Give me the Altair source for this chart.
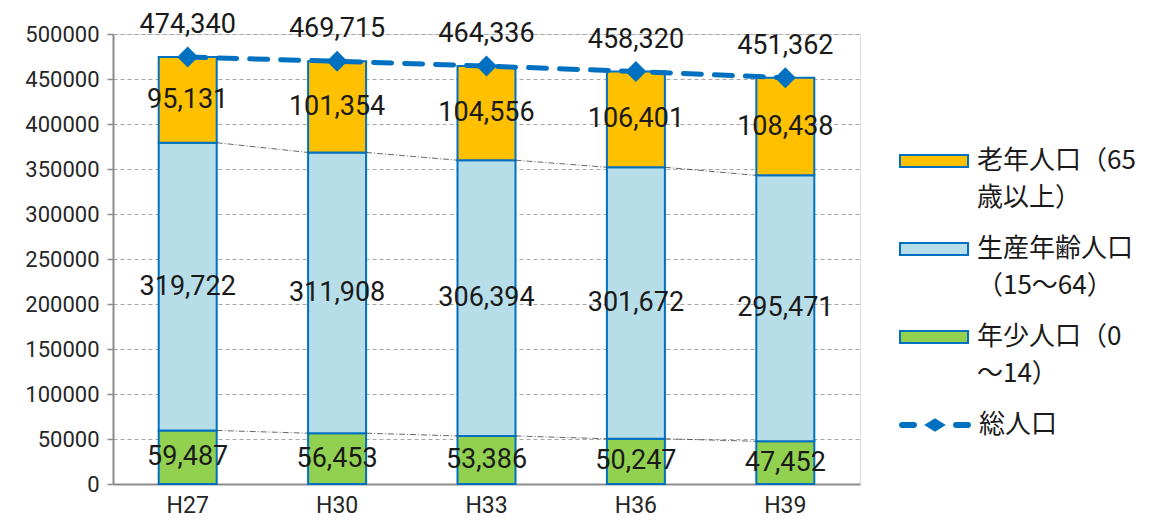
import altair as alt
import pandas as pd

years = ["H27", "H30", "H33", "H36", "H39"]
young = [59487, 56453, 53386, 50247, 47452]
working = [319722, 311908, 306394, 301672, 295471]
elderly = [95131, 101354, 104556, 106401, 108438]
total = [474340, 469715, 464336, 458320, 451362]

series_names = ["老年人口（65|歳以上）", "生産年齢人口|（15～64）", "年少人口（0|～14）"]
series_colors = ["#FFC000", "#B7DDE8", "#92D050"]
total_name = "総人口"
y_ticks = [0, 50000, 100000, 150000, 200000, 250000, 300000, 350000, 400000, 450000, 500000]

FONT = "Roboto, 'Noto Sans CJK JP'"
CJK = "'Noto Sans CJK JP'"
BLUE = "#0070C0"
TXT = "#1a1a1a"

# stacked segments, bottom to top
rows = []
for i, yr in enumerate(years):
    lower = 0
    for name, vals in [(series_names[2], young), (series_names[1], working), (series_names[0], elderly)]:
        v = vals[i]
        rows.append({"year": yr, "series": name, "value": v, "lower": lower,
                     "upper": lower + v, "mid": lower + v / 2,
                     "label": f"{v:,}"})
        lower += v
bars_df = pd.DataFrame(rows)

tot_df = pd.DataFrame({"year": years, "total": total, "name": total_name,
                       "label": [f"{t:,}" for t in total]})

# Excel-style series lines between adjacent bars
sl = []
for i in range(len(years) - 1):
    sl.append({"x": years[i], "x2": years[i + 1], "y": young[i], "y2": young[i + 1]})
    sl.append({"x": years[i], "x2": years[i + 1],
               "y": young[i] + working[i], "y2": young[i + 1] + working[i + 1]})
sl_df = pd.DataFrame(sl)

xscale = alt.Scale(domain=years, paddingInner=0, paddingOuter=0)
yscale = alt.Scale(domain=[0, 500000], nice=False)

x_enc = alt.X("year:N", scale=xscale, sort=years,
              axis=alt.Axis(title=None, labelAngle=0, ticks=False, domainColor="#8C8C8C",
                            domainWidth=2, labelFontSize=23, labelFont=FONT,
                            labelColor="#262626", labelPadding=10))

bars = alt.Chart(bars_df).mark_bar(size=58, stroke=BLUE, strokeWidth=2).encode(
    x=x_enc,
    y=alt.Y("lower:Q", scale=yscale,
            axis=alt.Axis(title=None, values=y_ticks, format="d", labelFontSize=22,
                          labelFont=FONT, labelColor="#262626", grid=True,
                          gridDash=[4, 3], gridColor="#A6A6A6", gridWidth=1,
                          domainColor="#8C8C8C", domainWidth=2, tickColor="#8C8C8C",
                          tickSize=6, tickWidth=1.5, labelPadding=8)),
    y2="upper:Q",
    fill=alt.Fill("series:N", scale=alt.Scale(domain=series_names, range=series_colors),
                  legend=alt.Legend(title=None, orient="none", legendX=786, legendY=92,
                                    symbolType="M-1,-0.18H1V0.18H-1Z", symbolSize=4624,
                                    symbolStrokeColor=BLUE, symbolStrokeWidth=2,
                                    labelExpr="split(datum.label, '|')",
                                    labelFontSize=26, labelFont=CJK, labelColor=TXT,
                                    labelLimit=300, rowPadding=3, labelOffset=8)),
)

series_lines = alt.Chart(sl_df).mark_rule(strokeDash=[6, 2, 1, 2], strokeWidth=0.8,
                                          color="#404040", xOffset=29, x2Offset=-29).encode(
    x=alt.X("x:N", scale=xscale, sort=years),
    x2="x2:N",
    y=alt.Y("y:Q", scale=yscale),
    y2="y2:Q",
)

seg_labels = alt.Chart(bars_df).mark_text(fontSize=27, font=FONT, color=TXT).encode(
    x=alt.X("year:N", scale=xscale, sort=years),
    y=alt.Y("mid:Q", scale=yscale),
    text="label:N",
)

line = alt.Chart(tot_df).mark_line(strokeDash=[18, 13], strokeWidth=5, strokeCap="round",
                                   color=BLUE).encode(
    x=alt.X("year:N", scale=xscale, sort=years),
    y=alt.Y("total:Q", scale=yscale),
)

pts = alt.Chart(tot_df).mark_point(shape="diamond", filled=True, size=440, opacity=1).encode(
    x=alt.X("year:N", scale=xscale, sort=years),
    y=alt.Y("total:Q", scale=yscale),
    color=alt.Color("name:N", scale=alt.Scale(domain=[total_name], range=[BLUE]),
                    legend=alt.Legend(title=None, orient="none", legendX=786, legendY=355,
                                      symbolType="M-0.92,-0.08H-0.58A0.08,0.08,0,0,1,-0.58,0.08H-0.92A0.08,0.08,0,0,1,-0.92,-0.08Z M-0.3,0L0,-0.19L0.3,0L0,0.19Z M0.58,-0.08H0.92A0.08,0.08,0,0,1,0.92,0.08H0.58A0.08,0.08,0,0,1,0.58,-0.08Z",
                                      symbolSize=5184, symbolStrokeWidth=0,
                                      labelFontSize=26, labelFont=CJK, labelColor=TXT,
                                      labelOffset=8)),
)

tot_labels = alt.Chart(tot_df).mark_text(fontSize=27, font=FONT, color=TXT, dy=-32).encode(
    x=alt.X("year:N", scale=xscale, sort=years),
    y=alt.Y("total:Q", scale=yscale),
    text="label:N",
)

chart = alt.layer(bars, series_lines, seg_labels, line, pts, tot_labels).properties(
    width=747, height=450,
    autosize=alt.AutoSizeParams(type="none"),
    padding={"left": 105, "top": 26, "right": 294, "bottom": 40},
).configure_view(stroke=None).configure(
    style={"guide-label": {"lineHeight": 37}}
).resolve_scale(fill="independent", color="independent")

chart.save("out.html", embed_options={"renderer": "svg", "actions": False})
